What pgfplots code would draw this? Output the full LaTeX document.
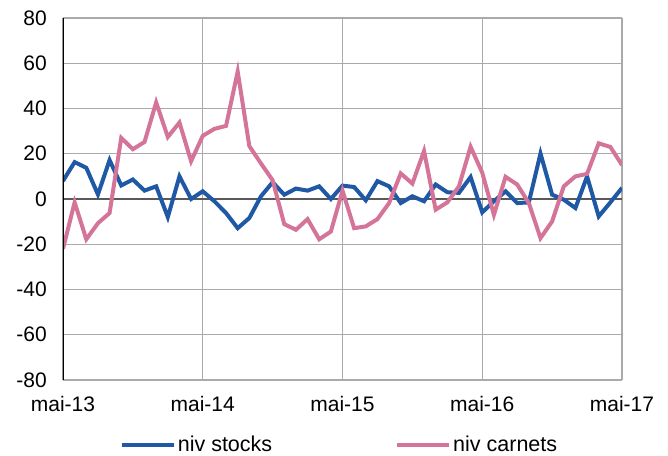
\documentclass[border=0pt]{standalone}
\usepackage{fontspec}
\setmainfont{Liberation Sans}
\usepackage{pgfplots}
\pgfplotsset{compat=1.18}

\definecolor{stocks}{RGB}{31,88,165}
\definecolor{carnets}{RGB}{213,116,153}
\definecolor{gridgray}{RGB}{170,170,170}

% mois depuis mai-13
\pgfplotstableread{
m  stocks  carnets
0   8     -22
1   16.3  -1.5
2   13.8  -17.8
3   2     -10.7
4   17.2  -6.2
5   6      27
6   8.6    22
7   3.7    25.2
8   5.6    42.7
9  -8      27.4
10  10     33.8
11  0      16.7
12  3.4    27.9
13 -1      31
14 -6.2    32.3
15 -12.9   56.3
16 -8.4    23.4
17  1.2    15.7
18  7.4    8.3
19  1.9   -11.1
20  4.6   -13.6
21  3.7   -8.9
22  5.6   -17.8
23  0     -14.4
24  5.9    3.7
25  5.3   -12.9
26 -0.6   -12.1
27  7.9   -8.9
28  5.6   -1.8
29 -1.8    11.3
30  1.2    6.8
31 -1      21.2
32  6.4   -4.7
33  3     -1.5
34  2.7    5.6
35  9.7    23.1
36 -5.9    11.6
37 -1     -7
38  3.4    9.8
39 -1.8    6.4
40 -1.5   -1.8
41  20.1  -17.3
42  1.9   -9.9
43 -0.3    5.6
44 -4      10
45  10     11.1
46 -7.7    24.6
47 -1.5    23
48  4.9    15
}\data

\begin{document}
\fontsize{21pt}{25pt}\selectfont
\begin{tikzpicture}
\begin{axis}[
  scale only axis,
  width=559pt, height=362pt,
  xmin=0, xmax=48, ymin=-80, ymax=80,
  xtick={0,12,24,36,48},
  xticklabels={mai-13,mai-14,mai-15,mai-16,mai-17},
  ytick={-80,-60,...,80},
  /pgf/number format/assume math mode=true,
  major tick length=0pt,
  grid=major,
  major grid style={gridgray, line width=1.2pt},
  axis line style={draw=none},
  tick label style={font=\fontsize{21pt}{25pt}\selectfont},
  yticklabel style={xshift=-9pt},
  xticklabel style={yshift=-9pt},
  legend columns=2,
  legend style={draw=none, at={(0.5,-65pt)}, anchor=center, xshift=-3pt,
    font=\fontsize{21.5pt}{25pt}\selectfont,
    /tikz/every even column/.append style={column sep=121pt}},
  legend image code/.code={\draw[#1, line width=4pt] (0pt,0pt) -- (52pt,0pt);},
]
\draw[gray!70!black, line width=1.2pt] (axis cs:0,0) -- (axis cs:48,0);
\addplot[stocks, line width=4pt, no markers] table[x=m, y=stocks] {\data};
\addlegendentry{niv stocks}
\addplot[carnets, line width=4pt, no markers] table[x=m, y=carnets] {\data};
\addlegendentry{niv carnets}
\draw[black, line width=1.2pt] (axis cs:0,-80) -- (axis cs:0,80);
\end{axis}
\pgfresetboundingbox
\path[use as bounding box] (-63pt,-75pt) rectangle (605pt,380pt);
\end{tikzpicture}
\end{document}
